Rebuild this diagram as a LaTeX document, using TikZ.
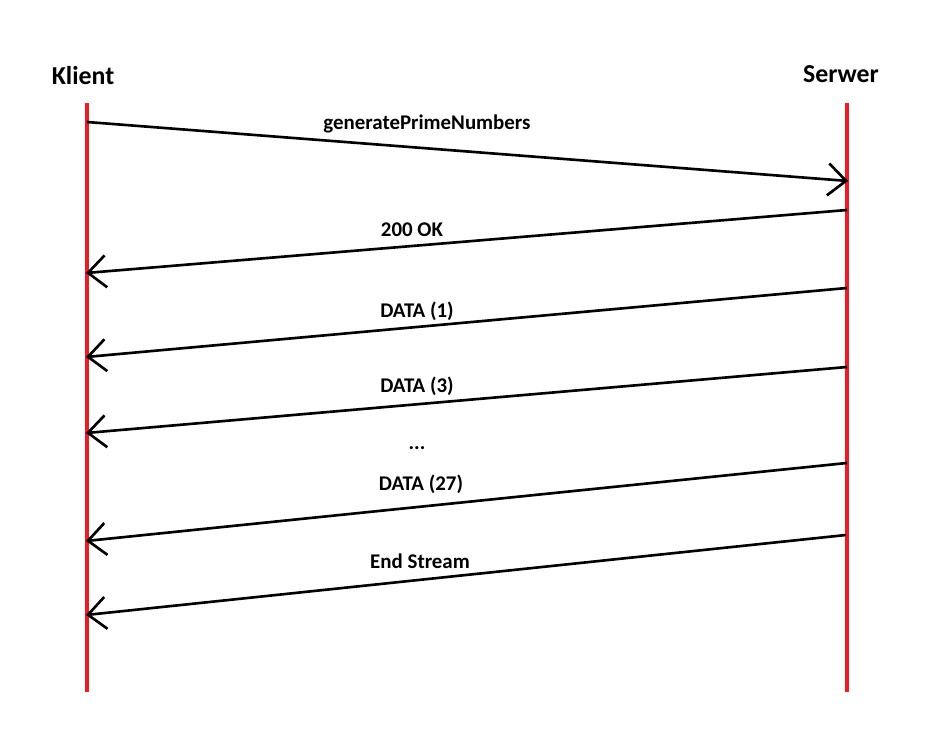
\documentclass[tikz,border=0pt]{standalone}
\usepackage{fontspec}
\setmainfont{Carlito}
\usepackage{tikz}
\usetikzlibrary{arrows.meta}

\definecolor{lifeRed}{RGB}{237,28,36}

\begin{document}
\begin{tikzpicture}[
    x=0.02cm, y=-0.02cm,
    partyName/.style={anchor=base, inner sep=0pt, font=\bfseries\fontsize{14.7}{17}\selectfont},
    msgLabel/.style={anchor=base, inner sep=0pt, font=\bfseries\fontsize{11.9}{14}\selectfont},
    lifeline/.style={draw=lifeRed, line width=2.8pt},
    msg/.style={line width=1.5pt, -{Straight Barb[length=0.36cm, width=0.64cm, line width=1.5pt]}},
    every node/.style={
        text centered,
        }
        ]
    \useasboundingbox (0,0) rectangle (944,732);

    \node[partyName] (klient) at (83, 85) {Klient};
    \node[partyName] (serwer) at (841, 83) {Serwer};

    \coordinate (klientTop) at (87, 103);
    \coordinate (klientBot) at (87, 692);
    \coordinate (serwerTop) at (847, 103);
    \coordinate (serwerBot) at (847, 692);

    \draw[lifeline] (klientTop) -- (klientBot);
    \draw[lifeline] (serwerTop) -- (serwerBot);

    % message end points
    \coordinate (k1) at (87, 122);   \coordinate (s1) at (848, 181);
    \coordinate (s2) at (847, 210);  \coordinate (k2) at (86, 273);
    \coordinate (s3) at (847, 288);  \coordinate (k3) at (86, 357);
    \coordinate (s4) at (847, 367);  \coordinate (k4) at (86, 433);
    \coordinate (s5) at (847, 463);  \coordinate (k5) at (86, 541);
    \coordinate (s6) at (846, 535);  \coordinate (k6) at (86, 615);

    \draw[msg] (k1) -- (s1);
    \draw[msg] (s2) -- (k2);
    \draw[msg] (s3) -- (k3);
    \draw[msg] (s4) -- (k4);
    \draw[msg] (s5) -- (k5);
    \draw[msg] (s6) -- (k6);

    \node[msgLabel] (genLabel) at (427, 130) {generatePrimeNumbers};
    \node[msgLabel] (okLabel) at (412, 237) {200 OK};
    \node[msgLabel] (data1Label) at (417, 318) {DATA (1)};
    \node[msgLabel] (data3Label) at (417, 393) {DATA (3)};
    \node[msgLabel] (dotsLabel) at (417, 450) {...};
    \node[msgLabel] (data27Label) at (421, 491) {DATA (27)};
    \node[msgLabel] (endLabel) at (420, 569) {End Stream};
\end{tikzpicture}
\end{document}
